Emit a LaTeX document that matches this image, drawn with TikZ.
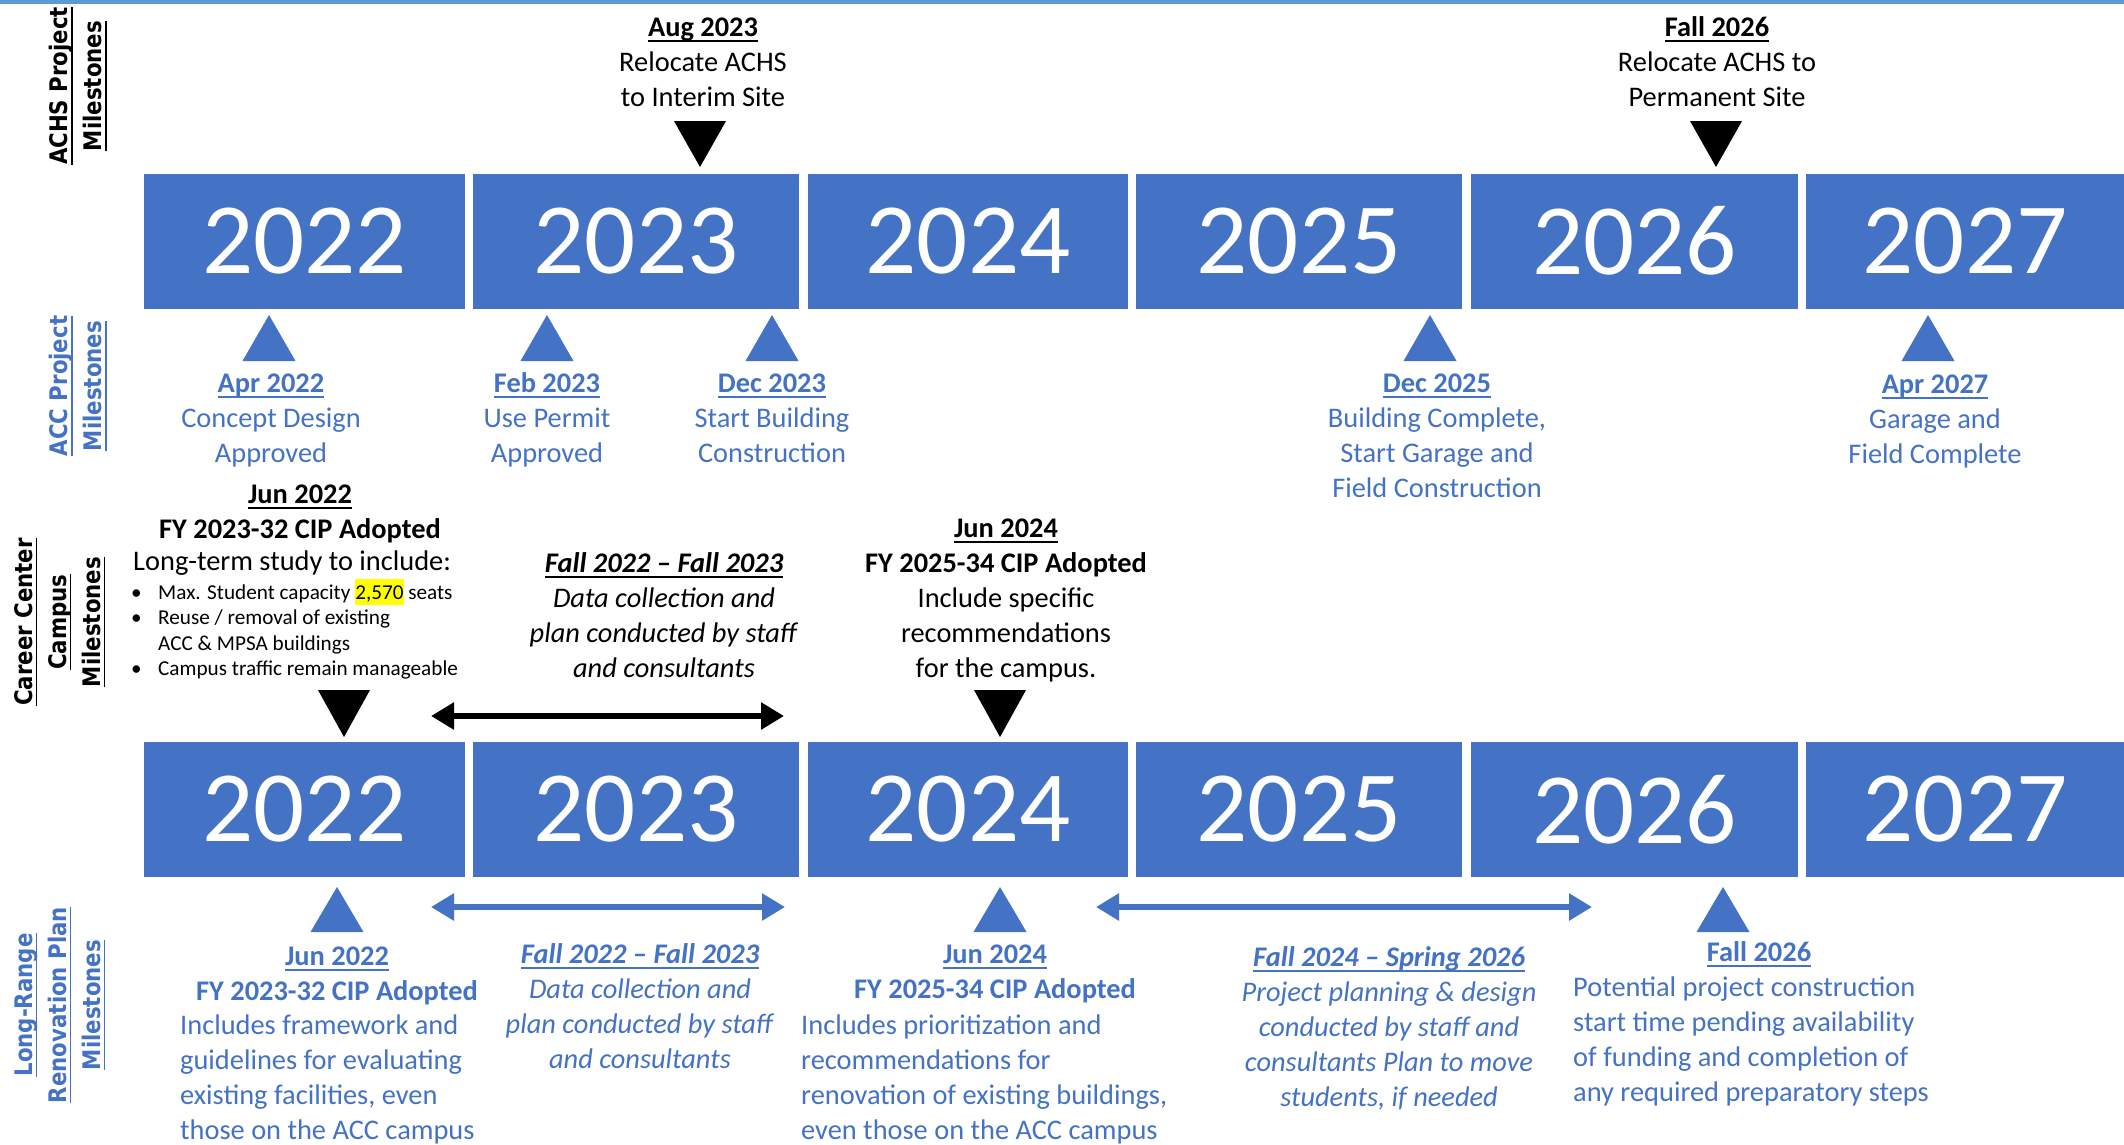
\documentclass[tikz,border=0pt]{standalone}
\usepackage{fontspec}
\setmainfont{Carlito}
\newfontfamily\sidefont[FakeStretch=0.88]{DejaVu Sans Bold}
\usetikzlibrary{arrows.meta}
\definecolor{boxblue}{HTML}{4472C4}
\definecolor{topblue}{HTML}{5B9BD5}
\definecolor{hly}{HTML}{FFFF00}
\newsavebox\ulbox
\newsavebox\hlbox
\newcommand\myul[1]{\sbox\ulbox{#1}\rlap{\rule[-0.2em]{\wd\ulbox}{0.07em}}\usebox\ulbox}
\newcommand\myhl[1]{\sbox\hlbox{#1}\rlap{\color{hly}\rule[-6pt]{\wd\hlbox}{26pt}}\usebox\hlbox}
\tikzset{
  yearbox/.style={fill=boxblue, draw=none, minimum height=135pt,
    inner sep=0pt, text=white, font=\fontsize{101}{101}\selectfont},
  blk/.style={font=\fontsize{28.4}{35}\selectfont, inner sep=0pt, anchor=north, align=center},
  lblk/.style={font=\fontsize{28.4}{35}\selectfont, inner sep=0pt, anchor=north west, align=left},
  bluetxt/.style={text=boxblue},
  sidelbl/.style={rotate=90, font=\sidefont\fontsize{24.2}{34}\selectfont, align=center, inner sep=0pt},
  downtri/.style={fill=black},
  uptri/.style={fill=boxblue},
  darr/.style={line width=6pt, {Triangle[length=23pt,width=26pt]}-{Triangle[length=23pt,width=26pt]}},
}
\begin{document}
\begin{tikzpicture}[x=1pt,y=-1pt]
\fill[white] (0,0) rectangle (2124,1144);
\useasboundingbox (0,0) rectangle (2124,1144);
\fill[topblue] (0,0) rectangle (2124,3.5);

% year boxes, top row
\node[yearbox, minimum width=321pt] (a2022) at (304.5,241) {2022};
\node[yearbox, minimum width=326pt] (a2023) at (636,241) {2023};
\node[yearbox, minimum width=320pt] (a2024) at (968,241) {2024};
\node[yearbox, minimum width=326pt] (a2025) at (1299,241) {2025};
\node[yearbox, minimum width=327pt] (a2026) at (1634.5,241) {2026};
\node[yearbox, minimum width=318pt] (a2027) at (1965,241) {2027};
% year boxes, bottom row
\node[yearbox, minimum width=321pt] (b2022) at (304.5,809.5) {2022};
\node[yearbox, minimum width=326pt] (b2023) at (636,809.5) {2023};
\node[yearbox, minimum width=320pt] (b2024) at (968,809.5) {2024};
\node[yearbox, minimum width=326pt] (b2025) at (1299,809.5) {2025};
\node[yearbox, minimum width=327pt] (b2026) at (1634.5,809.5) {2026};
\node[yearbox, minimum width=318pt] (b2027) at (1965,809.5) {2027};

% side labels
\node[sidelbl] (lachs) at (78,86) {\myul{ACHS Project}\\\myul{Milestones}};
\node[sidelbl, bluetxt] (lacc) at (78,386) {\myul{ACC Project}\\\myul{Milestones}};
\node[sidelbl] (lcar) at (60,622) {\myul{Career Center}\\\myul{Campus}\\\myul{Milestones}};
\node[sidelbl, bluetxt] (llr) at (60,1005) {\myul{Long-Range}\\\myul{Renovation Plan}\\\myul{Milestones}};

% ACHS milestones
\node[blk] (aug23) at (703,11.5) {\strut\textbf{\myul{Aug 2023}}\\Relocate ACHS\\to Interim Site};
\node[blk] (fall26a) at (1717,11.5) {\strut\textbf{\myul{Fall 2026}}\\Relocate ACHS to\\Permanent Site};
\fill[downtri] (674,121) -- (726,121) -- (700,167) -- cycle;
\fill[downtri] (1690,121) -- (1742,121) -- (1716,167) -- cycle;

% ACC milestones
\fill[uptri] (269,315) -- (295.5,361) -- (242.5,361) -- cycle;
\fill[uptri] (547,315) -- (573.5,361) -- (520.5,361) -- cycle;
\fill[uptri] (772,315) -- (798.5,361) -- (745.5,361) -- cycle;
\fill[uptri] (1430,315) -- (1456.5,361) -- (1403.5,361) -- cycle;
\fill[uptri] (1928,315) -- (1954.5,361) -- (1901.5,361) -- cycle;
\node[blk, bluetxt] (apr22) at (271,367.5) {\strut\textbf{\myul{Apr 2022}}\\Concept Design\\Approved};
\node[blk, bluetxt] (feb23) at (547,367.5) {\strut\textbf{\myul{Feb 2023}}\\Use Permit\\Approved};
\node[blk, bluetxt] (dec23) at (772,367.5) {\strut\textbf{\myul{Dec 2023}}\\Start Building\\Construction};
\node[blk, bluetxt] (dec25) at (1437,367.5) {\strut\textbf{\myul{Dec 2025}}\\Building Complete,\\Start Garage and\\Field Construction};
\node[blk, bluetxt] (apr27) at (1935,368.5) {\strut\textbf{\myul{Apr 2027}}\\Garage and\\Field Complete};

% Career Center Campus milestones
\node[blk] (cjun22) at (300,478.5) {\strut\textbf{\myul{Jun 2022}}\\\textbf{FY 2023-32 CIP Adopted}};
\node[lblk] (cstudy) at (133,545.5) {\strut Long-term study to include:};
\node[inner sep=0pt, anchor=north west, align=left, font=\fontsize{21.2}{25.5}\selectfont] (cbul) at (158,579.15)
  {\strut\llap{\makebox[27pt][l]{•}}Max. Student capacity \myhl{2,570} seats\\
   \llap{\makebox[27pt][l]{•}}Reuse / removal of existing\\
   ACC \& MPSA buildings\\
   \llap{\makebox[27pt][l]{•}}Campus traffic remain manageable};
\node[blk] (cfall) at (664,547.5) {\strut\textbf{\textit{\myul{Fall 2022 – Fall 2023}}}\\\textit{Data collection and}\\\textit{plan conducted by staff}\\\textit{and consultants}};
\node[blk] (cjun24) at (1006,512.5) {\strut\textbf{\myul{Jun 2024}}\\\textbf{FY 2025-34 CIP Adopted}\\Include specific\\recommendations\\for the campus.};
\fill[downtri] (318,690) -- (370,690) -- (344,737) -- cycle;
\fill[downtri] (974,690) -- (1026,690) -- (1000,737) -- cycle;
\coordinate (ca1) at (431,716);
\coordinate (ca2) at (784,716);
\draw[darr, black] (ca1) -- (ca2);

% Long-Range Renovation Plan milestones
\fill[uptri] (337,887) -- (363.5,932) -- (310.5,932) -- cycle;
\fill[uptri] (1000,887) -- (1026.5,932) -- (973.5,932) -- cycle;
\fill[uptri] (1723,887) -- (1749.5,932) -- (1696.5,932) -- cycle;
\coordinate (la1) at (431,907);
\coordinate (la2) at (785,907);
\coordinate (la3) at (1096,907);
\coordinate (la4) at (1592,907);
\draw[darr, boxblue] (la1) -- (la2);
\draw[darr, boxblue] (la3) -- (la4);
\node[blk, bluetxt] (ljun22) at (337,940.5) {\strut\textbf{\myul{Jun 2022}}\\\textbf{FY 2023-32 CIP Adopted}};
\node[lblk, bluetxt] (ljun22t) at (180,1009.5) {\strut Includes framework and\\guidelines for evaluating\\existing facilities, even\\those on the ACC campus};
\node[blk, bluetxt] (lfall22) at (640,938.5) {\strut\textbf{\textit{\myul{Fall 2022 – Fall 2023}}}\\\textit{Data collection and}\\\textit{plan conducted by staff}\\\textit{and consultants}};
\node[blk, bluetxt] (ljun24) at (995,938.5) {\strut\textbf{\myul{Jun 2024}}\\\textbf{FY 2025-34 CIP Adopted}};
\node[lblk, bluetxt] (ljun24t) at (801,1009.5) {\strut Includes prioritization and\\recommendations for\\renovation of existing buildings,\\even those on the ACC campus};
\node[blk, bluetxt] (lfall24) at (1389,941.5) {\strut\textbf{\textit{\myul{Fall 2024 – Spring 2026}}}\\\textit{Project planning \& design}\\\textit{conducted by staff and}\\\textit{consultants Plan to move}\\\textit{students, if needed}};
\node[blk, bluetxt] (lfall26) at (1759,936.5) {\strut\textbf{\myul{Fall 2026}}};
\node[lblk, bluetxt] (lfall26t) at (1573,971.5) {\strut Potential project construction\\start time pending availability\\of funding and completion of\\any required preparatory steps};
\end{tikzpicture}
\end{document}
